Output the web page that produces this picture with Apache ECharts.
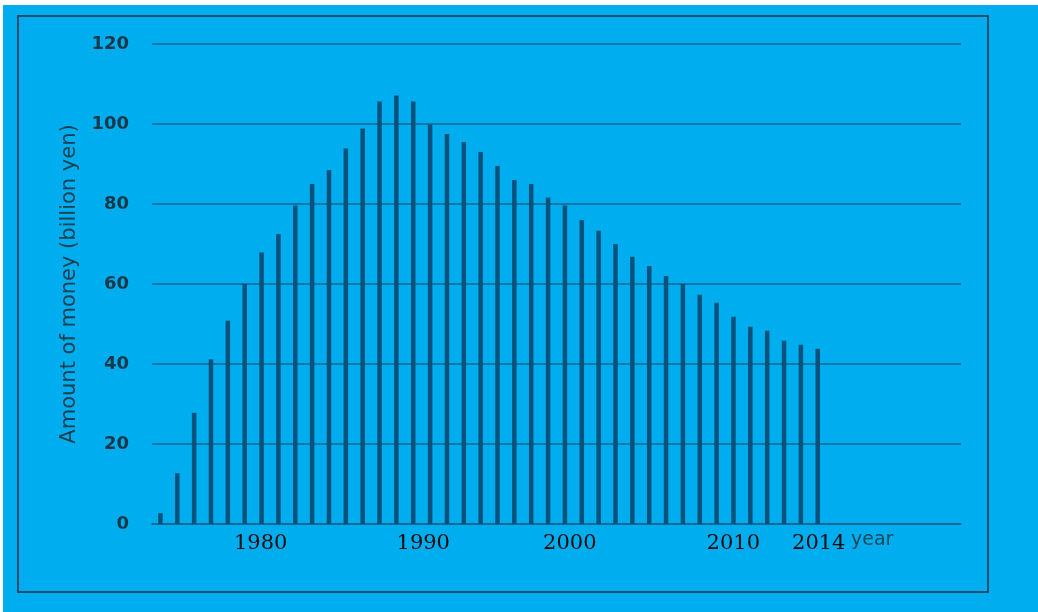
<!DOCTYPE html>
<html>
<head>
<meta charset="utf-8">
<script src="https://cdn.jsdelivr.net/npm/echarts@6/dist/echarts.min.js"></script>
<style>
  html, body { margin: 0; padding: 0; background: #ffffff; }
  #chart { position: absolute; left: 3px; top: 5px; width: 1035px; height: 607px; }
</style>
</head>
<body>
<div id="chart"></div>
<script>
// Years with data, 1975-2014
const years = [];
for (let y = 1975; y <= 2014; y++) years.push(String(y));

// Empty slots that continue the axis to the right of the last bar
const emptyYears = [];
for (let y = 2015; y <= 2022; y++) emptyYears.push(String(y));

// Amount of money per year (billion yen)
const amounts = [
  2.7, 12.7, 27.8, 41.2, 50.8, 60.0, 67.9, 72.5, 79.6, 85.0,
  88.5, 93.9, 98.9, 105.6, 107.1, 105.6, 99.9, 97.5, 95.5, 93.0,
  89.5, 86.0, 85.0, 81.6, 79.6, 76.0, 73.3, 70.0, 66.8, 64.5,
  62.0, 60.0, 57.3, 55.3, 51.8, 49.3, 48.3, 45.8, 44.8, 43.8
];

// Years that get a tick label
const labelledYears = ['1980', '1990', '2000', '2010', '2014'];

// Horizontal nudge (px) for each year label
const labelNudge = { '1980': 16, '1990': 10, '2000': -12, '2010': -17, '2014': 1 };

const categories = years.concat(emptyYears);

const rich = {};
labelledYears.forEach(function (y) {
  const n = labelNudge[y] || 0;
  rich['y' + y] = {
    fontFamily: 'DejaVu Serif',
    fontSize: 21,
    color: '#0d0d0d',
    padding: n >= 0 ? [0, 0, 0, 2 * n] : [0, -2 * n, 0, 0]
  };
});

const chart = echarts.init(document.getElementById('chart'));
chart.setOption({
  backgroundColor: '#00adee',
  animation: false,
  grid: { left: 149, top: 39, width: 809, height: 480, containLabel: false },
  xAxis: {
    type: 'category',
    data: categories,
    boundaryGap: true,
    axisLine: { show: true, lineStyle: { color: '#15658f', width: 1.6 } },
    axisTick: { show: false },
    axisLabel: {
      interval: 0,
      margin: 9,
      formatter: function (v) {
        return labelledYears.indexOf(v) >= 0 ? '{y' + v + '|' + v + '}' : '';
      },
      rich: rich
    }
  },
  yAxis: {
    type: 'value',
    min: 0,
    max: 120,
    interval: 20,
    name: 'Amount of money (billion yen)',
    nameLocation: 'middle',
    nameGap: 72,
    nameRotate: 90,
    nameTextStyle: { fontFamily: 'DejaVu Sans', fontSize: 21, color: '#174052' },
    axisLine: { show: false },
    axisTick: { show: false },
    axisLabel: { margin: 23, fontFamily: 'DejaVu Sans', fontSize: 18, fontWeight: 'bold', color: '#173848' },
    splitLine: { show: true, lineStyle: { color: '#15658f', width: 1.6 } }
  },
  series: [{
    type: 'bar',
    data: amounts,
    barWidth: 4.5,
    itemStyle: { color: '#0a527c' }
  }],
  graphic: [
    {
      type: 'rect',
      shape: { x: 15, y: 11, width: 970, height: 576 },
      style: { fill: 'none', stroke: '#174d6e', lineWidth: 2 },
      silent: true
    },
    {
      type: 'text',
      left: 848,
      top: 526,
      style: { text: 'year', fontFamily: 'DejaVu Sans', fontSize: 19, fill: '#164a5c' },
      silent: true
    }
  ]
});
</script>
</body>
</html>
